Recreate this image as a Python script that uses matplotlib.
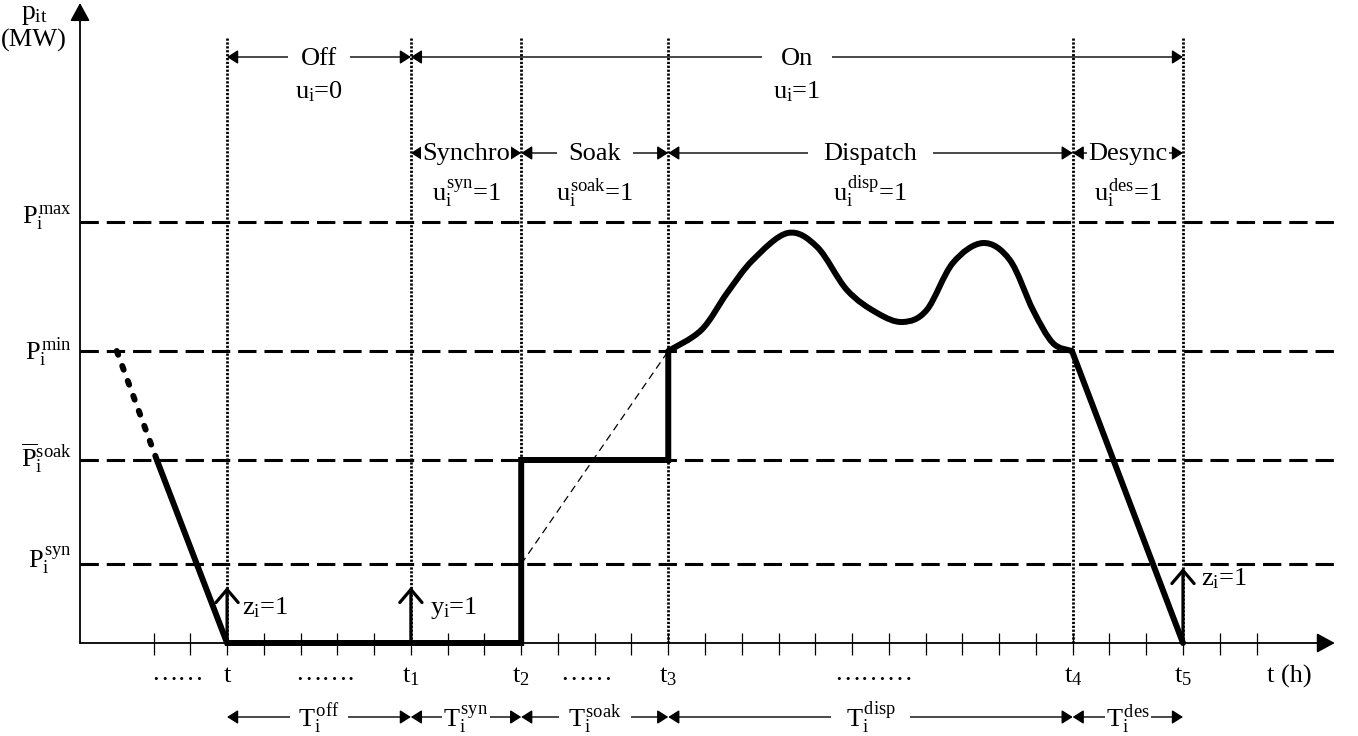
import matplotlib
matplotlib.use('Agg')
import matplotlib.pyplot as plt
from matplotlib.path import Path
from matplotlib.patches import PathPatch

plt.rcParams.update({
    'font.family': ['Liberation Serif', 'DejaVu Serif'],
    'mathtext.fontset': 'custom',
    'mathtext.rm': 'Liberation Serif',
    'mathtext.it': 'Liberation Serif',
    'mathtext.bf': 'Liberation Serif:bold',
})

# ---------------- data (time in hour-ticks, power in arbitrary units) ----------------
tick_pos = list(range(2, 33))
event_x = [4, 9, 12, 16, 27, 30]
event_labels = ['t', r'$t_1$', r'$t_2$', r'$t_3$', r'$t_4$', r'$t_5$']

level_vals = [4.21, 2.92, 1.83, 0.79]
level_labels = [r'$P_i^{max}$', r'$P_i^{min}$', r'$\overline{P}_i^{soak}$', r'$P_i^{syn}$']
level_label_base = [4.20, 2.83, 1.76, 0.75]

# shut-down ramp before t (dashed part then solid part)
ramp_dash_x = [1.0, 2.09]
ramp_dash_y = [2.92, 1.83]
# piecewise power trajectory
traj_x = [2.09, 4, 12, 12, 16, 16]
traj_y = [1.83, 0, 0, 1.83, 1.83, 2.92]
# dispatch curve
curve_x = [16.0, 16.9, 17.6, 18.3, 19.25, 20.05, 20.86, 21.68, 22.38, 23.03, 23.74, 24.56, 25.29, 25.92, 26.46, 26.98]
curve_y = [2.92, 3.13, 3.50, 3.83, 4.10, 3.96, 3.53, 3.30, 3.21, 3.33, 3.80, 4.00, 3.83, 3.33, 3.00, 2.92]
# desync ramp
desync_x = [26.98, 30]
desync_y = [2.92, 0]
# thin dashed ideal ramp
ideal_x = [12, 16]
ideal_y = [0.79, 2.92]

# binary indicator arrows
ind_x = [4, 9, 30]
ind_top = [0.56, 0.56, 0.75]
ind_labels = [r'$z_i$=1', r'$y_i$=1', r'$z_i$=1']
ind_lab_x = [4.4, 9.52, 30.5]
ind_lab_y = [0.29, 0.29, 0.58]

top_spans = [(4, 9, 'Off', r'$u_i$=0', 0.5), (9, 30, 'On', r'$u_i$=1', 0.7)]
mid_spans = [(9, 12, 'Synchro', r'$u_i^{syn}$=1', 0.04),
             (12, 16, 'Soak', r'$u_i^{soak}$=1', 0.45),
             (16, 27, 'Dispatch', r'$u_i^{disp}$=1', 0.6),
             (27, 30, 'Desync', r'$u_i^{des}$=1', 0.06)]
bot_spans = [(4, 9, r'$T_i^{off}$', 0.3), (9, 12, r'$T_i^{syn}$', 0.04),
             (12, 16, r'$T_i^{soak}$', 0.35), (16, 27, r'$T_i^{disp}$', 0.55),
             (27, 30, r'$T_i^{des}$', 0.05)]

dots_x = [2.65, 6.65, 13.77, 21.6]
dots_txt = ['……', '…….', '……', '………']

FS = 19

fig = plt.figure(figsize=(13.58, 7.36), dpi=100)
ax = fig.add_axes([0, 0, 1, 1])
ax.set_xlim(-2.176, 34.76)
ax.set_ylim(-0.93, 6.43)
ax.axis('off')

# axes with arrows
axis_arrow = dict(arrowstyle='-|>,head_length=0.55,head_width=0.3', lw=1.3, color='black',
                  mutation_scale=20, shrinkA=0, shrinkB=0)
ax.annotate('', xy=(0, 6.40), xytext=(0, 0), arrowprops=axis_arrow)
ax.annotate('', xy=(34.13, 0), xytext=(0, 0), arrowprops=axis_arrow)
ax.vlines(tick_pos, -0.12, 0.10, color='black', lw=0.9)

# level lines
for lv, lab, lb in zip(level_vals, level_labels, level_label_base):
    ax.plot([0, 34.27], [lv, lv], color='black', lw=2.2, dashes=(6, 2.6), zorder=2)
    ax.text(-0.22, lb, lab, ha='right', va='baseline', fontsize=FS)

# event dotted lines and labels
for x, lab in zip(event_x, event_labels):
    ax.plot([x, x], [0, 6.06], color='black', lw=2.0, linestyle=(0, (0.8, 0.6)), zorder=2)
    ax.text(x, -0.39, lab, ha='center', va='baseline', fontsize=FS)

for x, s in zip(dots_x, dots_txt):
    ax.text(x, -0.37, s, ha='center', va='baseline', fontsize=FS)
ax.text(32.9, -0.40, 't (h)', ha='center', va='baseline', fontsize=FS)

# y-axis title
ax.text(-1.25, 6.28, r'$p_{it}$', ha='center', va='center', fontsize=FS + 1)
ax.text(-1.25, 6.03, '(MW)', ha='center', va='center', fontsize=FS)

# trajectory
ax.plot(ramp_dash_x, ramp_dash_y, color='black', lw=4.3, dashes=(0.67, 2.0),
        dash_capstyle='round', zorder=4)
ax.plot(traj_x, traj_y, color='black', lw=4.3, solid_joinstyle='miter',
        solid_capstyle='butt', zorder=4)
ax.plot(desync_x, desync_y, color='black', lw=4.3, solid_capstyle='round', zorder=4)
ax.plot(ideal_x, ideal_y, color='black', lw=0.9, dashes=(6, 4), zorder=3)

# smooth dispatch curve (Catmull-Rom through the read points)
pts = list(zip(curve_x, curve_y))
verts = [pts[0]]
codes = [Path.MOVETO]
n = len(pts)
for i in range(n - 1):
    p0 = pts[i - 1] if i > 0 else pts[i]
    p1 = pts[i]
    p2 = pts[i + 1]
    p3 = pts[i + 2] if i + 2 < n else pts[i + 1]
    c1 = (p1[0] + (p2[0] - p0[0]) / 6, p1[1] + (p2[1] - p0[1]) / 6)
    c2 = (p2[0] - (p3[0] - p1[0]) / 6, p2[1] - (p3[1] - p1[1]) / 6)
    verts += [c1, c2, p2]
    codes += [Path.CURVE4] * 3
ax.add_patch(PathPatch(Path(verts, codes), fill=False, lw=4.3, edgecolor='black',
                       capstyle='round', joinstyle='round', zorder=4))

# indicator arrows
for x, top, lab, lx, ly in zip(ind_x, ind_top, ind_labels, ind_lab_x, ind_lab_y):
    ax.annotate('', xy=(x, top), xytext=(x, 0),
                arrowprops=dict(arrowstyle='->,head_length=0.47,head_width=0.4', lw=2.3,
                                color='black', mutation_scale=20, shrinkA=0, shrinkB=0),
                zorder=5)
    ax.text(lx, ly, lab, ha='left', va='baseline', fontsize=FS)

span_arrow = dict(arrowstyle='<|-|>,head_length=0.55,head_width=0.35', lw=1.0, color='black',
                  mutation_scale=12, shrinkA=0, shrinkB=0)


def span(x0, x1, y, label, pad, base):
    ax.annotate('', xy=(x1, y), xytext=(x0, y), arrowprops=span_arrow, zorder=3)
    ax.text((x0 + x1) / 2, base, label, ha='center', va='baseline', fontsize=FS, zorder=6,
            bbox=dict(boxstyle='square,pad=%g' % pad, facecolor='white', edgecolor='none'))


for x0, x1, lab, ulab, pad in top_spans:
    span(x0, x1, 5.86, lab, pad, 5.78)
    ax.text((x0 + x1) / 2, 5.45, ulab, ha='center', va='baseline', fontsize=FS, zorder=7)

for x0, x1, lab, ulab, pad in mid_spans:
    span(x0, x1, 4.90, lab, pad, 4.83)
    ax.text((x0 + x1) / 2, 4.42, ulab, ha='center', va='baseline', fontsize=FS, zorder=7)

for x0, x1, lab, pad in bot_spans:
    span(x0, x1, -0.74, lab, pad, -0.84)

fig.savefig('out.png', dpi=100)
